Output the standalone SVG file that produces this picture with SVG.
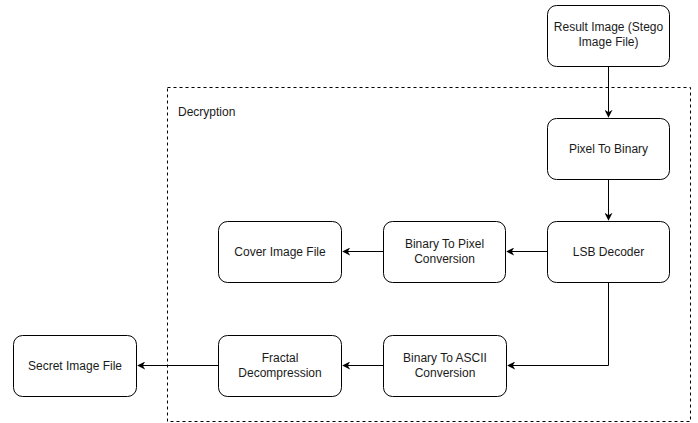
<svg xmlns="http://www.w3.org/2000/svg" width="698" height="423" viewBox="0 0 698 423">
<defs>
<style>
.box{fill:#fff;stroke:#000;stroke-width:1}
.t{font-family:"Liberation Sans",Arial,sans-serif;font-size:12px;fill:#1a1a1a;text-anchor:middle}
.c{fill:none;stroke:#000;stroke-width:1}
</style>
<marker id="a" viewBox="0 0 10 10" refX="9" refY="5" markerWidth="8" markerHeight="8" orient="auto" markerUnits="userSpaceOnUse">
<path d="M0,0 L10,5 L0,10 L3,5 Z" fill="#000"/>
</marker>
</defs>
<rect width="698" height="423" fill="#fff"/>
<g id="container">
<rect x="167.5" y="87.5" width="523" height="334" fill="none" stroke="#000" stroke-dasharray="3,3"/>
<text x="178" y="116" font-family="'Liberation Sans',Arial,sans-serif" font-size="12" fill="#1a1a1a">Decryption</text>
</g>
<g id="connectors">
<path class="c" d="M608.5,66 V117" marker-end="url(#a)"/>
<path class="c" d="M608.5,180 V220" marker-end="url(#a)"/>
<path class="c" d="M548,251.5 H507" marker-end="url(#a)"/>
<path class="c" d="M383,251.5 H343" marker-end="url(#a)"/>
<path class="c" d="M608.5,282 V365.5 H508" marker-end="url(#a)"/>
<path class="c" d="M383,365.5 H343" marker-end="url(#a)"/>
<path class="c" d="M218,365.5 H138" marker-end="url(#a)"/>
</g>
<g id="result">
<rect class="box" x="547.5" y="5.5" width="122" height="61" rx="9"/>
<text class="t" x="608.5" y="31">Result Image (Stego</text>
<text class="t" x="608.5" y="46">Image File)</text>
</g>
<g id="pixel2binary">
<rect class="box" x="547.5" y="118.5" width="122" height="61" rx="9"/>
<text class="t" x="608.5" y="153">Pixel To Binary</text>
</g>
<g id="lsb">
<rect class="box" x="547.5" y="221.5" width="122" height="61" rx="9"/>
<text class="t" x="608.5" y="256">LSB Decoder</text>
</g>
<g id="bin2pixel">
<rect class="box" x="383.5" y="221.5" width="122" height="61" rx="9"/>
<text class="t" x="444.5" y="248">Binary To Pixel</text>
<text class="t" x="444.5" y="263">Conversion</text>
</g>
<g id="cover">
<rect class="box" x="218.5" y="221.5" width="123" height="61" rx="9"/>
<text class="t" x="280" y="256">Cover Image File</text>
</g>
<g id="bin2ascii">
<rect class="box" x="383.5" y="335.5" width="123" height="61" rx="9"/>
<text class="t" x="445" y="362">Binary To ASCII</text>
<text class="t" x="445" y="377">Conversion</text>
</g>
<g id="fractal">
<rect class="box" x="218.5" y="335.5" width="123" height="61" rx="9"/>
<text class="t" x="280" y="362">Fractal</text>
<text class="t" x="280" y="377">Decompression</text>
</g>
<g id="secret">
<rect class="box" x="13.5" y="335.5" width="123" height="61" rx="9"/>
<text class="t" x="75" y="370">Secret Image File</text>
</g>
</svg>
